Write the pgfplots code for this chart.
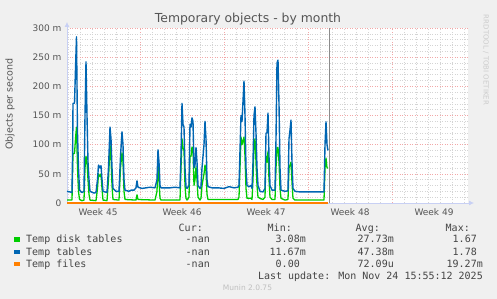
\documentclass[border=0pt]{standalone}
\usepackage{fontspec}
\setmainfont{DejaVu Sans}
\newfontfamily\mono{DejaVu Sans Mono}
\usepackage{pgfplots}
\pgfplotsset{compat=1.18}
\usetikzlibrary{arrows.meta}
\definecolor{bg}{HTML}{F0F0F0}
\definecolor{fontc}{HTML}{555555}
\definecolor{legc}{HTML}{444444}
\definecolor{axisc}{HTML}{C8D0F4}
\definecolor{mgrid}{HTML}{F2A8A8}
\definecolor{mingrid}{HTML}{D4D4D4}
\definecolor{nowc}{HTML}{8C8C8C}
\definecolor{cgreen}{HTML}{00CC00}
\definecolor{cblue}{HTML}{0066B3}
\definecolor{corange}{HTML}{FF8000}
\begin{document}
\begin{tikzpicture}[x=1pt,y=1pt]
\fill[bg] (0,0) rectangle (497,299);
\useasboundingbox (0,0) rectangle (497,299);
\begin{axis}[at={(67pt,96pt)}, anchor=south west, scale only axis,
  width=401pt, height=175pt,
  xmin=11, xmax=412, ymin=0, ymax=300, clip=false,
  axis background/.style={fill=white},
  axis x line=bottom, axis y line=left,
  axis line style={draw=axisc, line width=0.8pt, -{Latex[length=5pt,width=5pt]}, shorten >=-6pt},
  major tick length=0pt, minor tick length=0pt,
  xtick={84,168,252,336}, xticklabels={},
  extra x ticks={42,126,210,294,378},
  extra x tick labels={Week 45,Week 46,Week 47,Week 48,Week 49},
  extra x tick style={grid=none, major tick length=0pt},
  minor xtick={12,24,36,48,60,72,96,108,120,132,144,156,180,192,204,216,228,240,264,276,288,300,312,324,348,360,372,384,396,408},
  ytick={0,50,100,150,200,250,300},
  yticklabels={0\hspace{8pt},50 m,100 m,150 m,200 m,250 m,300 m},
  minor ytick={10,20,30,40,60,70,80,90,110,120,130,140,160,170,180,190,210,220,230,240,260,270,280,290},
  grid=both,
  major grid style={draw=mgrid, line width=0.5pt, dash pattern=on 1pt off 1.5pt},
  minor grid style={draw=mingrid, line width=0.5pt, dash pattern=on 1pt off 1.5pt},
  tick label style={font=\fontsize{9}{10}\selectfont, text=fontc},
  xticklabel style={yshift=-2pt},
  yticklabel style={xshift=-2pt},
]
\addplot[cgreen, line width=1.3pt, line join=round] coordinates {
(11,5) (16,5) (16.7,60) (17,85) (18.5,85) (19.5,110) (20.5,130) (21.5,60) (22.5,20) (23.5,6)
(26,4) (28,5) (29,60) (30,80) (31,70) (32,40) (33,15) (34,5)
(40,4) (41.5,25) (42.5,50) (44,45) (45,50) (46,25) (47,5)
(51,4) (52.5,40) (54,100) (55,80) (56,30) (57,6)
(63,5) (64.5,60) (66,86) (67,70) (68,20) (69,6)
(80,5) (81,14) (82,6)
(99,5) (101,20) (102,70) (103,40) (104,8) (105,5)
(124,5) (125,60) (126,110) (127,95) (128,90) (129,30) (130,8) (131,5)
(133,10) (134,80) (135,80) (136,96) (137,90) (138,30) (139,40) (140,62) (141,40) (142,10)
(144,5) (145,8) (146,30) (148,50) (149,65) (150,55) (151,15) (152,6)
(182,6) (183,10) (184,60) (185,113) (186,100) (188,113) (189,80) (190,25) (191,8)
(195,8) (196,6) (197,40) (198,100) (199,110) (200,70) (201,30) (202,10)
(204,8) (207,6) (209,10) (210,80) (211,70) (212,88) (213,40) (214,10)
(216,6) (219,6) (220,60) (221,95) (222,95) (223,70) (224,25) (225,8)
(229,5) (232,6) (233,60) (234,65) (235,70) (236,35) (237,8)
(239,5) (268,5) (269,60) (270,77) (271,60) (272,60)
};
\addplot[cblue, line width=1.4pt, line join=round] coordinates {
(11,20) (14,19) (16,18) (16.7,100) (17,171) (18.5,171) (19.5,230) (20.5,285) (21.5,120) (22.5,60) (23.5,22)
(26,18) (28,20) (29,150) (30,242) (31,150) (32,70) (33,40) (34,20)
(38,17) (40,18) (41.5,40) (42.5,65) (44,60) (45,64) (46,40) (47,20)
(51,18) (52.5,60) (54,130) (55,110) (56,60) (57,25)
(60,20) (63,20) (64.5,80) (66,122) (67,100) (68,40) (69,22)
(73,20) (75,22) (78,22) (80,26) (81,38) (82,27)
(86,25) (90,26) (94,27) (99,26) (101,40) (102,91) (103,70) (104,30) (105,26)
(114,26) (119,27) (124,26) (125,80) (126,171) (127,135) (128,130) (129,60) (130,28)
(131,25) (133,30) (134,135) (135,130) (136,146) (137,140) (138,60) (139,65) (140,95) (141,70) (142,30)
(144,25) (145,28) (146,60) (148,100) (149,140) (150,110) (151,40) (152,28)
(156,26) (162,26) (168,25) (173,28) (178,26) (182,27)
(183,30) (184,90) (185,150) (186,140) (188,209) (189,150) (190,60) (191,30)
(193,28) (195,30) (196,25) (197,70) (198,150) (199,165) (200,120) (201,60) (202,30)
(204,20) (207,19) (209,25) (210,120) (211,120) (212,154) (213,80) (214,30)
(216,22) (219,22) (220,110) (221,240) (222,245) (223,170) (224,60) (225,22)
(229,20) (232,21) (233,110) (234,125) (235,142) (236,70) (237,25)
(239,20) (244,19) (254,19) (264,19) (268,19) (269,100) (270,139) (271,100) (272,90)
};
\addplot[corange, line width=1.2pt] coordinates {(11,0) (272,0)};
\addplot[nowc, line width=0.7pt] coordinates {(273,0) (273,300)};
\end{axis}
% title and labels
\node[text=fontc, font=\fontsize{12.4}{14}\selectfont] at (248,280) {Temporary objects - by month};
\node[text=fontc, font=\fontsize{9.5}{11}\selectfont, rotate=90] at (10,195) {Objects per second};
\node[text=black!20, font=\fontsize{7}{8}\selectfont, rotate=-90] at (486,239) {RRDTOOL / TOBI OETIKER};
% legend
\begin{scope}[every node/.style={text=legc, font=\mono\fontsize{10}{12}\selectfont, inner sep=0pt}]
\fill[cgreen] (14,57.3) rectangle (19.5,61.8);
\fill[cblue] (14,44.8) rectangle (19.5,49.3);
\fill[corange] (14,32.8) rectangle (19.5,37.3);
\node[anchor=base west] at (26,56) {Temp disk tables};
\node[anchor=base west] at (26,43.5) {Temp tables};
\node[anchor=base west] at (26,31.5) {Temp files};
\node[anchor=base east] at (203,67.5) {Cur:};
\node[anchor=base east] at (292,67.5) {Min:};
\node[anchor=base east] at (380,67.5) {Avg:};
\node[anchor=base east] at (470,67.5) {Max:};
\node[anchor=base east] at (210,56) {-nan};
\node[anchor=base east] at (210,43.5) {-nan};
\node[anchor=base east] at (210,31.5) {-nan};
\node[anchor=base east] at (306,56) {3.08m};
\node[anchor=base east] at (306,43.5) {11.67m};
\node[anchor=base east] at (300,31.5) {0.00};
\node[anchor=base east] at (394,56) {27.73m};
\node[anchor=base east] at (394,43.5) {47.38m};
\node[anchor=base east] at (394,31.5) {72.09u};
\node[anchor=base east] at (477,56) {1.67};
\node[anchor=base east] at (477,43.5) {1.78};
\node[anchor=base east] at (483,31.5) {19.27m};
\node[anchor=base east] at (483,19.5) {Last update: Mon Nov 24 15:55:12 2025};
\end{scope}
\node[text=black!25, font=\fontsize{7.5}{9}\selectfont, anchor=base] at (247.5,8) {Munin 2.0.75};
\end{tikzpicture}
\end{document}
